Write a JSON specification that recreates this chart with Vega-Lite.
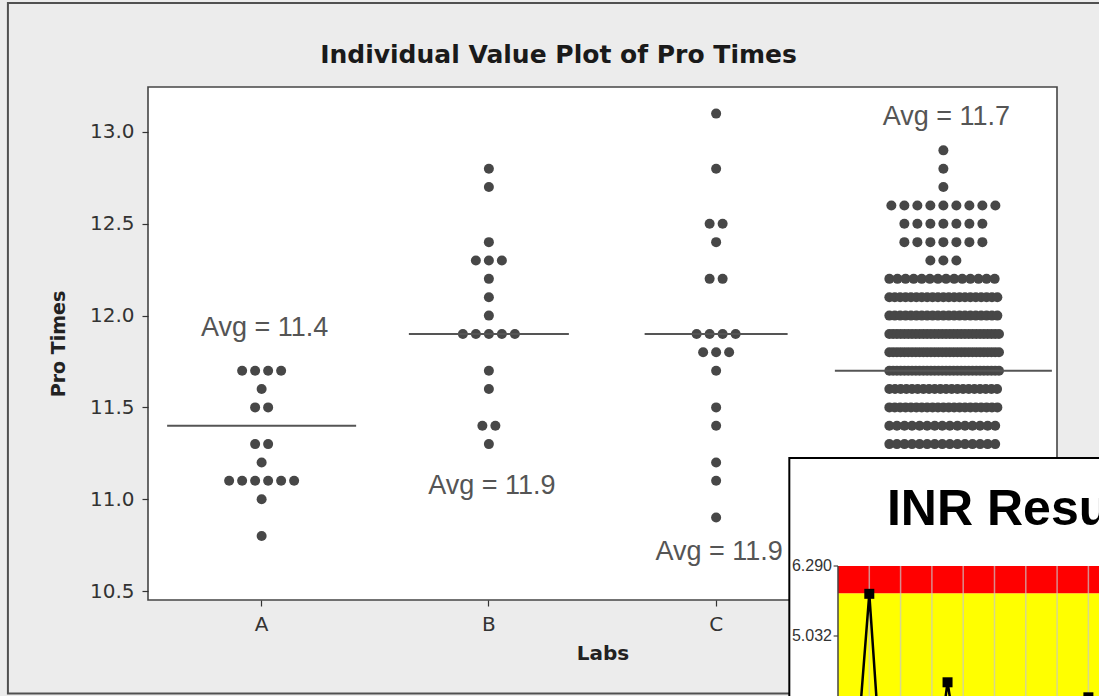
{
  "$schema": "https://vega.github.io/schema/vega-lite/v6.json",
  "width": 909,
  "height": 513,
  "autosize": {"type": "none"},
  "padding": {"left": 148, "top": 87, "right": 42, "bottom": 96},
  "background": "#ececec",
  "config": {
    "font": "DejaVu Sans",
    "view": {"fill": "white", "stroke": "#454545", "strokeWidth": 1.6}
  },
  "title": {"text": "Individual Value Plot of Pro Times", "font": "DejaVu Sans", "fontSize": 25, "fontWeight": "bold", "color": "#1a1a1a", "anchor": "middle", "dx": -44, "dy": 85, "offset": 19},
  "datasets": {
    "dots": [
      {"lab":"A","value":11.7},{"lab":"A","value":11.7},{"lab":"A","value":11.7},{"lab":"A","value":11.7},
      {"lab":"A","value":11.6},
      {"lab":"A","value":11.5},{"lab":"A","value":11.5},
      {"lab":"A","value":11.3},{"lab":"A","value":11.3},
      {"lab":"A","value":11.2},
      {"lab":"A","value":11.1},{"lab":"A","value":11.1},{"lab":"A","value":11.1},{"lab":"A","value":11.1},{"lab":"A","value":11.1},{"lab":"A","value":11.1},
      {"lab":"A","value":11.0},
      {"lab":"A","value":10.8},
      {"lab":"B","value":12.8},
      {"lab":"B","value":12.7},
      {"lab":"B","value":12.4},
      {"lab":"B","value":12.3},{"lab":"B","value":12.3},{"lab":"B","value":12.3},
      {"lab":"B","value":12.2},
      {"lab":"B","value":12.1},
      {"lab":"B","value":12.0},
      {"lab":"B","value":11.9},{"lab":"B","value":11.9},{"lab":"B","value":11.9},{"lab":"B","value":11.9},{"lab":"B","value":11.9},
      {"lab":"B","value":11.7},
      {"lab":"B","value":11.6},
      {"lab":"B","value":11.4},{"lab":"B","value":11.4},
      {"lab":"B","value":11.3},
      {"lab":"C","value":13.1},
      {"lab":"C","value":12.8},
      {"lab":"C","value":12.5},{"lab":"C","value":12.5},
      {"lab":"C","value":12.4},
      {"lab":"C","value":12.2},{"lab":"C","value":12.2},
      {"lab":"C","value":11.9},{"lab":"C","value":11.9},{"lab":"C","value":11.9},{"lab":"C","value":11.9},
      {"lab":"C","value":11.8},{"lab":"C","value":11.8},{"lab":"C","value":11.8},
      {"lab":"C","value":11.7},
      {"lab":"C","value":11.5},
      {"lab":"C","value":11.4},
      {"lab":"C","value":11.2},
      {"lab":"C","value":11.1},
      {"lab":"C","value":10.9},
      {"lab":"D","value":12.9},
      {"lab":"D","value":12.8},
      {"lab":"D","value":12.7},
      {"lab":"D","value":12.6},{"lab":"D","value":12.6},{"lab":"D","value":12.6},{"lab":"D","value":12.6},{"lab":"D","value":12.6},{"lab":"D","value":12.6},{"lab":"D","value":12.6},{"lab":"D","value":12.6},{"lab":"D","value":12.6},
      {"lab":"D","value":12.5},{"lab":"D","value":12.5},{"lab":"D","value":12.5},{"lab":"D","value":12.5},{"lab":"D","value":12.5},{"lab":"D","value":12.5},{"lab":"D","value":12.5},
      {"lab":"D","value":12.4},{"lab":"D","value":12.4},{"lab":"D","value":12.4},{"lab":"D","value":12.4},{"lab":"D","value":12.4},{"lab":"D","value":12.4},{"lab":"D","value":12.4},
      {"lab":"D","value":12.3},{"lab":"D","value":12.3},{"lab":"D","value":12.3},
      {"lab":"D","value":12.2},{"lab":"D","value":12.2},{"lab":"D","value":12.2},{"lab":"D","value":12.2},{"lab":"D","value":12.2},{"lab":"D","value":12.2},{"lab":"D","value":12.2},{"lab":"D","value":12.2},{"lab":"D","value":12.2},{"lab":"D","value":12.2},
      {"lab":"D","value":12.2},{"lab":"D","value":12.2},{"lab":"D","value":12.2},{"lab":"D","value":12.2},
      {"lab":"D","value":12.1},{"lab":"D","value":12.1},{"lab":"D","value":12.1},{"lab":"D","value":12.1},{"lab":"D","value":12.1},{"lab":"D","value":12.1},{"lab":"D","value":12.1},{"lab":"D","value":12.1},{"lab":"D","value":12.1},{"lab":"D","value":12.1},
      {"lab":"D","value":12.1},{"lab":"D","value":12.1},{"lab":"D","value":12.1},{"lab":"D","value":12.1},{"lab":"D","value":12.1},{"lab":"D","value":12.1},{"lab":"D","value":12.1},{"lab":"D","value":12.1},{"lab":"D","value":12.1},{"lab":"D","value":12.1},
      {"lab":"D","value":12.1},
      {"lab":"D","value":12.0},{"lab":"D","value":12.0},{"lab":"D","value":12.0},{"lab":"D","value":12.0},{"lab":"D","value":12.0},{"lab":"D","value":12.0},{"lab":"D","value":12.0},{"lab":"D","value":12.0},{"lab":"D","value":12.0},{"lab":"D","value":12.0},
      {"lab":"D","value":12.0},{"lab":"D","value":12.0},{"lab":"D","value":12.0},{"lab":"D","value":12.0},{"lab":"D","value":12.0},{"lab":"D","value":12.0},{"lab":"D","value":12.0},{"lab":"D","value":12.0},{"lab":"D","value":12.0},{"lab":"D","value":12.0},
      {"lab":"D","value":12.0},
      {"lab":"D","value":11.9},{"lab":"D","value":11.9},{"lab":"D","value":11.9},{"lab":"D","value":11.9},{"lab":"D","value":11.9},{"lab":"D","value":11.9},{"lab":"D","value":11.9},{"lab":"D","value":11.9},{"lab":"D","value":11.9},{"lab":"D","value":11.9},
      {"lab":"D","value":11.9},{"lab":"D","value":11.9},{"lab":"D","value":11.9},{"lab":"D","value":11.9},{"lab":"D","value":11.9},{"lab":"D","value":11.9},{"lab":"D","value":11.9},{"lab":"D","value":11.9},{"lab":"D","value":11.9},{"lab":"D","value":11.9},
      {"lab":"D","value":11.9},{"lab":"D","value":11.9},{"lab":"D","value":11.9},{"lab":"D","value":11.9},{"lab":"D","value":11.9},{"lab":"D","value":11.9},{"lab":"D","value":11.9},{"lab":"D","value":11.9},{"lab":"D","value":11.9},{"lab":"D","value":11.9},
      {"lab":"D","value":11.8},{"lab":"D","value":11.8},{"lab":"D","value":11.8},{"lab":"D","value":11.8},{"lab":"D","value":11.8},{"lab":"D","value":11.8},{"lab":"D","value":11.8},{"lab":"D","value":11.8},{"lab":"D","value":11.8},{"lab":"D","value":11.8},
      {"lab":"D","value":11.8},{"lab":"D","value":11.8},{"lab":"D","value":11.8},{"lab":"D","value":11.8},{"lab":"D","value":11.8},{"lab":"D","value":11.8},{"lab":"D","value":11.8},{"lab":"D","value":11.8},{"lab":"D","value":11.8},{"lab":"D","value":11.8},
      {"lab":"D","value":11.8},{"lab":"D","value":11.8},{"lab":"D","value":11.8},{"lab":"D","value":11.8},{"lab":"D","value":11.8},{"lab":"D","value":11.8},{"lab":"D","value":11.8},{"lab":"D","value":11.8},{"lab":"D","value":11.8},{"lab":"D","value":11.8},
      {"lab":"D","value":11.7},{"lab":"D","value":11.7},{"lab":"D","value":11.7},{"lab":"D","value":11.7},{"lab":"D","value":11.7},{"lab":"D","value":11.7},{"lab":"D","value":11.7},{"lab":"D","value":11.7},{"lab":"D","value":11.7},{"lab":"D","value":11.7},
      {"lab":"D","value":11.7},{"lab":"D","value":11.7},{"lab":"D","value":11.7},{"lab":"D","value":11.7},{"lab":"D","value":11.7},{"lab":"D","value":11.7},{"lab":"D","value":11.7},{"lab":"D","value":11.7},{"lab":"D","value":11.7},{"lab":"D","value":11.7},
      {"lab":"D","value":11.7},{"lab":"D","value":11.7},{"lab":"D","value":11.7},{"lab":"D","value":11.7},{"lab":"D","value":11.7},{"lab":"D","value":11.7},{"lab":"D","value":11.7},{"lab":"D","value":11.7},{"lab":"D","value":11.7},{"lab":"D","value":11.7},
      {"lab":"D","value":11.6},{"lab":"D","value":11.6},{"lab":"D","value":11.6},{"lab":"D","value":11.6},{"lab":"D","value":11.6},{"lab":"D","value":11.6},{"lab":"D","value":11.6},{"lab":"D","value":11.6},{"lab":"D","value":11.6},{"lab":"D","value":11.6},
      {"lab":"D","value":11.6},{"lab":"D","value":11.6},{"lab":"D","value":11.6},{"lab":"D","value":11.6},{"lab":"D","value":11.6},{"lab":"D","value":11.6},{"lab":"D","value":11.6},{"lab":"D","value":11.6},{"lab":"D","value":11.6},{"lab":"D","value":11.6},
      {"lab":"D","value":11.5},{"lab":"D","value":11.5},{"lab":"D","value":11.5},{"lab":"D","value":11.5},{"lab":"D","value":11.5},{"lab":"D","value":11.5},{"lab":"D","value":11.5},{"lab":"D","value":11.5},{"lab":"D","value":11.5},{"lab":"D","value":11.5},
      {"lab":"D","value":11.5},{"lab":"D","value":11.5},{"lab":"D","value":11.5},{"lab":"D","value":11.5},{"lab":"D","value":11.5},{"lab":"D","value":11.5},{"lab":"D","value":11.5},{"lab":"D","value":11.5},{"lab":"D","value":11.5},{"lab":"D","value":11.5},
      {"lab":"D","value":11.5},
      {"lab":"D","value":11.4},{"lab":"D","value":11.4},{"lab":"D","value":11.4},{"lab":"D","value":11.4},{"lab":"D","value":11.4},{"lab":"D","value":11.4},{"lab":"D","value":11.4},{"lab":"D","value":11.4},{"lab":"D","value":11.4},{"lab":"D","value":11.4},
      {"lab":"D","value":11.4},{"lab":"D","value":11.4},{"lab":"D","value":11.4},{"lab":"D","value":11.4},{"lab":"D","value":11.4},
      {"lab":"D","value":11.3},{"lab":"D","value":11.3},{"lab":"D","value":11.3},{"lab":"D","value":11.3},{"lab":"D","value":11.3},{"lab":"D","value":11.3},{"lab":"D","value":11.3},{"lab":"D","value":11.3},{"lab":"D","value":11.3},{"lab":"D","value":11.3},
      {"lab":"D","value":11.3},{"lab":"D","value":11.3},{"lab":"D","value":11.3},{"lab":"D","value":11.3},{"lab":"D","value":11.3},
      {"lab":"D","value":11.2},{"lab":"D","value":11.2},{"lab":"D","value":11.2},{"lab":"D","value":11.2},{"lab":"D","value":11.2},{"lab":"D","value":11.2},{"lab":"D","value":11.2},{"lab":"D","value":11.2},{"lab":"D","value":11.2},{"lab":"D","value":11.2},
      {"lab":"D","value":11.2},{"lab":"D","value":11.2},{"lab":"D","value":11.2},{"lab":"D","value":11.2},
      {"lab":"D","value":11.1},{"lab":"D","value":11.1},{"lab":"D","value":11.1},{"lab":"D","value":11.1},{"lab":"D","value":11.1},{"lab":"D","value":11.1},{"lab":"D","value":11.1},{"lab":"D","value":11.1},{"lab":"D","value":11.1},{"lab":"D","value":11.1},
      {"lab":"D","value":11.1},{"lab":"D","value":11.1},{"lab":"D","value":11.1},{"lab":"D","value":11.1},{"lab":"D","value":11.1},
      {"lab":"D","value":11.0},{"lab":"D","value":11.0},{"lab":"D","value":11.0},{"lab":"D","value":11.0},{"lab":"D","value":11.0},{"lab":"D","value":11.0},{"lab":"D","value":11.0},{"lab":"D","value":11.0},{"lab":"D","value":11.0},{"lab":"D","value":11.0},
      {"lab":"D","value":11.0},{"lab":"D","value":11.0},
      {"lab":"D","value":10.9},{"lab":"D","value":10.9},{"lab":"D","value":10.9},{"lab":"D","value":10.9},{"lab":"D","value":10.9},{"lab":"D","value":10.9},{"lab":"D","value":10.9},{"lab":"D","value":10.9},
      {"lab":"D","value":10.8},{"lab":"D","value":10.8},{"lab":"D","value":10.8},{"lab":"D","value":10.8},{"lab":"D","value":10.8},
      {"lab":"D","value":10.7},{"lab":"D","value":10.7},{"lab":"D","value":10.7}
    ],
    "means": [
      {"lab":"A","value":11.4},{"lab":"B","value":11.9},{"lab":"C","value":11.9},{"lab":"D","value":11.7}
    ],
    "labels": [
      {"lab":"A","value":11.93,"label":"Avg = 11.4"},
      {"lab":"B","value":11.07,"label":"Avg = 11.9"},
      {"lab":"C","value":10.71,"label":"Avg = 11.9"},
      {"lab":"D","value":13.08,"label":"Avg = 11.7"}
    ],
    "inr": [
      {"day":1,"inr":2.2},{"day":2,"inr":5.79},{"day":3,"inr":1.7},{"day":4,"inr":2.3},
      {"day":5,"inr":2.6},{"day":6,"inr":2.1},{"day":7,"inr":4.2},{"day":8,"inr":2.4},
      {"day":9,"inr":2.8},{"day":10,"inr":2.5},{"day":11,"inr":2.2},{"day":12,"inr":2.9},
      {"day":13,"inr":2.6},{"day":14,"inr":2.3},{"day":15,"inr":2.7},{"day":16,"inr":3.93}
    ]
  },
  "layer": [
    {
      "encoding": {
        "x": {"field": "lab", "type": "nominal",
          "scale": {"type": "band", "domain": ["A", "B", "C", "D"], "paddingInner": 0, "paddingOuter": 0},
          "axis": {"title": "Labs", "labelAngle": 0, "domain": false, "grid": false, "tickSize": 6, "tickColor": "#333", "tickWidth": 1.2,
            "labelFont": "DejaVu Sans", "labelFontSize": 20, "labelColor": "#333", "labelPadding": 8,
            "titleFont": "DejaVu Sans", "titleFontSize": 20, "titleFontWeight": "bold", "titleColor": "#222", "titlePadding": 9}},
        "y": {"field": "value", "type": "quantitative",
          "scale": {"domain": [10.451, 13.245], "nice": false, "zero": false},
          "axis": {"title": "Pro Times", "values": [10.5, 11, 11.5, 12, 12.5, 13], "format": ".1f", "domain": false, "grid": false,
            "tickSize": 6, "tickColor": "#333", "tickWidth": 1.2,
            "labelFont": "DejaVu Sans", "labelFontSize": 20, "labelColor": "#333", "labelPadding": 8,
            "titleFont": "DejaVu Sans", "titleFontSize": 19, "titleFontWeight": "bold", "titleColor": "#222", "titlePadding": 21}}
      },
      "layer": [
        {
          "data": {"name": "dots"},
          "transform": [
            {"window": [{"op": "row_number", "as": "k"}], "groupby": ["lab", "value"]},
            {"joinaggregate": [{"op": "count", "as": "n"}], "groupby": ["lab", "value"]},
            {"joinaggregate": [{"op": "count", "as": "one"}], "groupby": ["lab", "value", "k"]},
            {"filter": "datum.n <= 9"},
            {"stack": "one", "groupby": ["lab", "value"], "offset": "center", "as": ["s0", "s1"]}
          ],
          "mark": {"type": "circle", "size": 100, "color": "#474747", "opacity": 1},
          "encoding": {
            "xOffset": {"field": "s0", "type": "quantitative", "scale": {"domain": [-4.74, 12.74], "range": [0, 227.25], "nice": false, "zero": false}}
          }
        },
        {
          "data": {"name": "dots"},
          "transform": [
            {"window": [{"op": "row_number", "as": "k"}], "groupby": ["lab", "value"]},
            {"joinaggregate": [{"op": "count", "as": "n"}], "groupby": ["lab", "value"]},
            {"joinaggregate": [{"op": "count", "as": "one"}], "groupby": ["lab", "value", "k"]},
            {"filter": "datum.n > 9"},
            {"stack": "one", "groupby": ["lab", "value"], "offset": "normalize", "as": ["s0", "s1"]}
          ],
          "mark": {"type": "circle", "size": 100, "color": "#474747", "opacity": 1},
          "encoding": {
            "xOffset": {"field": "s0", "type": "quantitative", "scale": {"domain": [-0.5256, 1.4784], "range": [0, 227.25], "nice": false, "zero": false}}
          }
        },
        {"data": {"name": "means"}, "transform": [{"filter": "datum.lab === 'A'"}], "mark": {"type": "tick", "size": 189, "thickness": 2, "color": "#555", "opacity": 1}},
        {"data": {"name": "means"}, "transform": [{"filter": "datum.lab === 'B'"}], "mark": {"type": "tick", "size": 160, "thickness": 2, "color": "#555", "opacity": 1}},
        {"data": {"name": "means"}, "transform": [{"filter": "datum.lab === 'C'"}], "mark": {"type": "tick", "size": 143, "thickness": 2, "color": "#555", "opacity": 1}},
        {"data": {"name": "means"}, "transform": [{"filter": "datum.lab === 'D'"}], "mark": {"type": "tick", "size": 217, "thickness": 2, "color": "#555", "opacity": 1}},
        {
          "data": {"name": "labels"},
          "mark": {"type": "text", "font": "Liberation Sans", "fontSize": 27, "color": "#555", "baseline": "middle", "align": "center", "dx": 3},
          "encoding": {"text": {"field": "label"}}
        }
      ],
      "resolve": {"scale": {"xOffset": "independent"}}
    },
    {
      "layer": [
        {
          "data": {"values": [{}]},
          "mark": {"type": "rect", "fill": "none", "stroke": "#505050", "strokeWidth": 2},
          "encoding": {
            "x": {"datum": -53.04, "type": "quantitative", "scale": {"domain": [-44.089, 13.994], "nice": false, "zero": false}, "axis": null},
            "x2": {"datum": 20},
            "y": {"datum": 4.0, "type": "quantitative", "scale": {"domain": [5.679, 14.899], "nice": false, "zero": false}, "axis": null},
            "y2": {"datum": 16.41}
          }
        },
        {
          "data": {"values": [{}]},
          "mark": {"type": "rect", "fill": "white", "stroke": "black", "strokeWidth": 2},
          "encoding": {
            "x": {"datum": -3.11, "type": "quantitative", "scale": {"domain": [-44.089, 13.994], "nice": false, "zero": false}, "axis": null},
            "x2": {"datum": 40},
            "y": {"datum": 1, "type": "quantitative", "scale": {"domain": [5.679, 14.899], "nice": false, "zero": false}, "axis": null},
            "y2": {"datum": 8.231}
          }
        },
        {
          "data": {"values": [{"zone": "in range", "lo": 1, "hi": 5.8}, {"zone": "high", "lo": 5.8, "hi": 6.29}]},
          "mark": {"type": "rect"},
          "encoding": {
            "x": {"datum": 0, "type": "quantitative", "scale": {"domain": [-44.089, 13.994], "nice": false, "zero": false}, "axis": null},
            "x2": {"datum": 40},
            "y": {"field": "lo", "type": "quantitative", "scale": {"domain": [5.679, 14.899], "nice": false, "zero": false}, "axis": null},
            "y2": {"field": "hi"},
            "color": {"field": "zone", "type": "nominal", "scale": {"domain": ["in range", "high"], "range": ["#ffff00", "#ff0000"]}, "legend": null}
          }
        },
        {
          "data": {"values": [{"day": 2}, {"day": 4}, {"day": 6}, {"day": 8}, {"day": 10}, {"day": 12}, {"day": 14}, {"day": 16}]},
          "mark": {"type": "rule", "color": "#c8c8c8", "opacity": 0.7, "strokeWidth": 1.5},
          "encoding": {
            "x": {"field": "day", "type": "quantitative", "scale": {"domain": [-44.089, 13.994], "nice": false, "zero": false}, "axis": null},
            "y": {"datum": 1, "type": "quantitative", "scale": {"domain": [5.679, 14.899], "nice": false, "zero": false}, "axis": null},
            "y2": {"datum": 6.29}
          }
        },
        {
          "data": {"values": [{}]},
          "mark": {"type": "rule", "color": "#444", "strokeWidth": 1.5},
          "encoding": {
            "x": {"datum": 0, "type": "quantitative", "scale": {"domain": [-44.089, 13.994], "nice": false, "zero": false}, "axis": null},
            "y": {"datum": 1, "type": "quantitative", "scale": {"domain": [5.679, 14.899], "nice": false, "zero": false}, "axis": null},
            "y2": {"datum": 6.29}
          }
        },
        {
          "data": {"values": [{"v": 6.29, "t": "6.290"}, {"v": 5.032, "t": "5.032"}]},
          "mark": {"type": "rule", "color": "#444", "strokeWidth": 1.2},
          "encoding": {
            "x": {"datum": -0.28, "type": "quantitative", "scale": {"domain": [-44.089, 13.994], "nice": false, "zero": false}, "axis": null},
            "x2": {"datum": 0},
            "y": {"field": "v", "type": "quantitative", "scale": {"domain": [5.679, 14.899], "nice": false, "zero": false}, "axis": null}
          }
        },
        {
          "data": {"values": [{"v": 6.29, "t": "6.290"}, {"v": 5.032, "t": "5.032"}]},
          "mark": {"type": "text", "align": "right", "baseline": "middle", "dx": -6, "font": "Liberation Sans", "fontSize": 16, "color": "#333"},
          "encoding": {
            "x": {"datum": 0, "type": "quantitative", "scale": {"domain": [-44.089, 13.994], "nice": false, "zero": false}, "axis": null},
            "y": {"field": "v", "type": "quantitative", "scale": {"domain": [5.679, 14.899], "nice": false, "zero": false}, "axis": null},
            "text": {"field": "t"}
          }
        },
        {
          "data": {"values": [{"t": "INR Results"}]},
          "mark": {"type": "text", "align": "left", "baseline": "alphabetic", "font": "Liberation Sans", "fontSize": 50, "fontWeight": "bold", "color": "black"},
          "encoding": {
            "x": {"datum": 3.13, "type": "quantitative", "scale": {"domain": [-44.089, 13.994], "nice": false, "zero": false}, "axis": null},
            "y": {"datum": 7.027, "type": "quantitative", "scale": {"domain": [5.679, 14.899], "nice": false, "zero": false}, "axis": null},
            "text": {"field": "t"}
          }
        },
        {
          "data": {"name": "inr"},
          "mark": {"type": "line", "color": "black", "strokeWidth": 2.5},
          "encoding": {
            "x": {"field": "day", "type": "quantitative", "scale": {"domain": [-44.089, 13.994], "nice": false, "zero": false}, "axis": null},
            "y": {"field": "inr", "type": "quantitative", "scale": {"domain": [5.679, 14.899], "nice": false, "zero": false}, "axis": null}
          }
        },
        {
          "data": {"name": "inr"},
          "mark": {"type": "square", "size": 100, "color": "black", "opacity": 1, "filled": true},
          "encoding": {
            "x": {"field": "day", "type": "quantitative", "scale": {"domain": [-44.089, 13.994], "nice": false, "zero": false}, "axis": null},
            "y": {"field": "inr", "type": "quantitative", "scale": {"domain": [5.679, 14.899], "nice": false, "zero": false}, "axis": null}
          }
        }
      ]
    }
  ],
  "resolve": {"scale": {"x": "independent", "y": "independent"}, "axis": {"x": "independent", "y": "independent"}}
}
